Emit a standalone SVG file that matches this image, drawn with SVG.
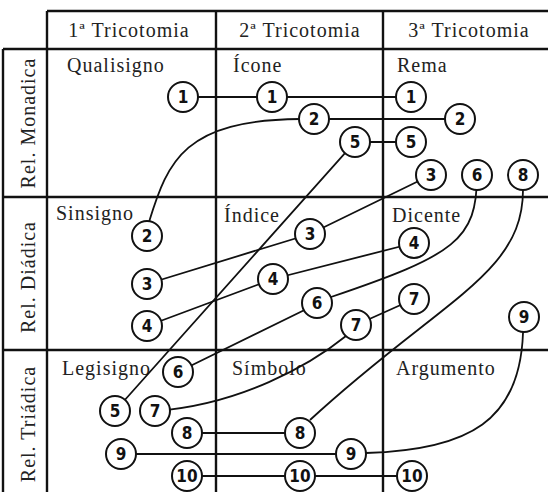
<svg xmlns="http://www.w3.org/2000/svg" width="548" height="492" viewBox="0 0 548 492">
<style>
.grid{stroke:#111;stroke-width:2.4;fill:none}
.con{stroke:#111;stroke-width:1.8;fill:none}
.node circle{fill:#fff;stroke:#111;stroke-width:2}
.node text{font-family:"DejaVu Sans Condensed","DejaVu Sans","Liberation Sans",sans-serif;font-weight:bold;font-size:17px;text-anchor:middle;fill:#111}
.lbl{font-family:"Liberation Serif","Times New Roman",serif;font-size:20px;letter-spacing:1px;fill:#222}
.hdr{text-anchor:middle}
</style>
<rect width="548" height="492" fill="#fff"/>
<g id="grid" class="grid">
<path d="M47,11 H548 M3,49 H548 M3,197 H548 M3,350 H548"/>
<path d="M3,49 V492 M47,11 V492 M216,11 V492 M383,11 V492"/>
</g>
<g id="labels">
<text class="lbl hdr" x="129" y="37">1ª Tricotomia</text>
<text class="lbl hdr" x="300" y="37">2ª Tricotomia</text>
<text class="lbl hdr" x="469" y="37">3ª Tricotomia</text>
<text class="lbl hdr" transform="translate(35,123) rotate(-90)">Rel. Monadica</text>
<text class="lbl hdr" transform="translate(35,277) rotate(-90)">Rel. Diádica</text>
<text class="lbl hdr" transform="translate(35,424) rotate(-90)">Rel. Triádica</text>
<text class="lbl" x="67" y="72">Qualisigno</text>
<text class="lbl" x="233" y="72">Ícone</text>
<text class="lbl" x="397" y="72">Rema</text>
<text class="lbl" x="56" y="220">Sinsigno</text>
<text class="lbl" x="224" y="222">Índice</text>
<text class="lbl" x="392" y="222">Dicente</text>
<text class="lbl" x="62" y="375">Legisigno</text>
<text class="lbl" x="232" y="375">Símbolo</text>
<text class="lbl" x="396" y="375">Argumento</text>
</g>
<g id="connectors" class="con">
<path d="M183,97 L411,97"/>
<path d="M149,222 C168,160 185,120 300,119 L460,119"/>
<path d="M147,284 L310,234 L431,175"/>
<path d="M147,326 L273,279 L414,243"/>
<path d="M115,411 L355,142 L411,142"/>
<path d="M178,372 L331,297 C455,255 477,240 477,175"/>
<path d="M414,299 L356,325 M346,336 C310,365 240,405 155,411"/>
<path d="M187,433 L300,433 M310,420 C440,300 523,275 523,190 L523,175"/>
<path d="M121,454 L351,454 M366,453 C470,450 520,420 523,333 L524,317"/>
<path d="M187,476 L412,476"/>
</g>
<g id="n1a" class="node"><circle cx="183" cy="97" r="15"/><text x="183" y="103">1</text></g>
<g id="n1b" class="node"><circle cx="272" cy="97" r="15"/><text x="272" y="103">1</text></g>
<g id="n1c" class="node"><circle cx="411" cy="97" r="15"/><text x="411" y="103">1</text></g>
<g id="n2a" class="node"><circle cx="147" cy="236" r="15"/><text x="147" y="242">2</text></g>
<g id="n2b" class="node"><circle cx="314" cy="119" r="15"/><text x="314" y="125">2</text></g>
<g id="n2c" class="node"><circle cx="460" cy="119" r="15"/><text x="460" y="125">2</text></g>
<g id="n3a" class="node"><circle cx="147" cy="284" r="15"/><text x="147" y="290">3</text></g>
<g id="n3b" class="node"><circle cx="310" cy="234" r="15"/><text x="310" y="240">3</text></g>
<g id="n3c" class="node"><circle cx="431" cy="175" r="15"/><text x="431" y="181">3</text></g>
<g id="n4a" class="node"><circle cx="147" cy="326" r="15"/><text x="147" y="332">4</text></g>
<g id="n4b" class="node"><circle cx="273" cy="279" r="15"/><text x="273" y="285">4</text></g>
<g id="n4c" class="node"><circle cx="414" cy="243" r="15"/><text x="414" y="249">4</text></g>
<g id="n5a" class="node"><circle cx="115" cy="411" r="15"/><text x="115" y="417">5</text></g>
<g id="n5b" class="node"><circle cx="355" cy="142" r="15"/><text x="355" y="148">5</text></g>
<g id="n5c" class="node"><circle cx="411" cy="142" r="15"/><text x="411" y="148">5</text></g>
<g id="n6a" class="node"><circle cx="178" cy="372" r="15"/><text x="178" y="378">6</text></g>
<g id="n6b" class="node"><circle cx="317" cy="303" r="15"/><text x="317" y="309">6</text></g>
<g id="n6c" class="node"><circle cx="477" cy="175" r="15"/><text x="477" y="181">6</text></g>
<g id="n7a" class="node"><circle cx="155" cy="411" r="15"/><text x="155" y="417">7</text></g>
<g id="n7b" class="node"><circle cx="356" cy="325" r="15"/><text x="356" y="331">7</text></g>
<g id="n7c" class="node"><circle cx="414" cy="299" r="15"/><text x="414" y="305">7</text></g>
<g id="n8a" class="node"><circle cx="187" cy="433" r="15"/><text x="187" y="439">8</text></g>
<g id="n8b" class="node"><circle cx="300" cy="433" r="15"/><text x="300" y="439">8</text></g>
<g id="n8c" class="node"><circle cx="523" cy="175" r="15"/><text x="523" y="181">8</text></g>
<g id="n9a" class="node"><circle cx="121" cy="454" r="15"/><text x="121" y="460">9</text></g>
<g id="n9b" class="node"><circle cx="351" cy="454" r="15"/><text x="351" y="460">9</text></g>
<g id="n9c" class="node"><circle cx="524" cy="317" r="15"/><text x="524" y="323">9</text></g>
<g id="n10a" class="node"><circle cx="187" cy="476" r="15"/><text x="187" y="482">10</text></g>
<g id="n10b" class="node"><circle cx="300" cy="476" r="15"/><text x="300" y="482">10</text></g>
<g id="n10c" class="node"><circle cx="412" cy="476" r="15"/><text x="412" y="482">10</text></g>
</svg>
